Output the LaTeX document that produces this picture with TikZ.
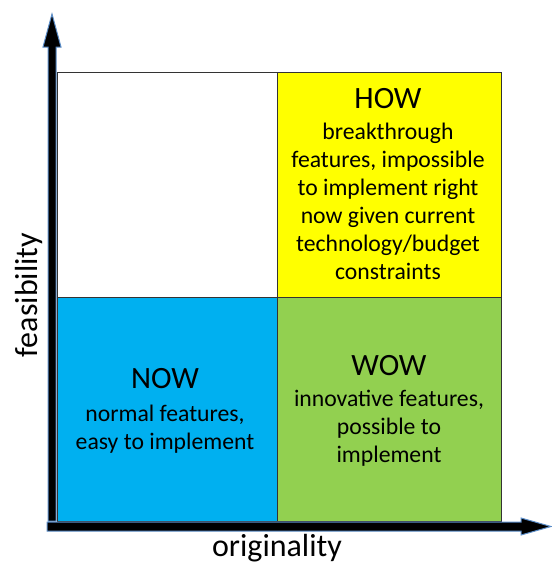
\documentclass[tikz,border=0pt]{standalone}
\usepackage{fontspec}
\setmainfont{Carlito}
\definecolor{nowblue}{HTML}{00B0F0}
\definecolor{howyellow}{HTML}{FFFF00}
\definecolor{wowgreen}{HTML}{92D050}
\definecolor{glow}{HTML}{5B8DC8}
\begin{document}
\begin{tikzpicture}[x=1pt,y=-1pt]

	\tikzset{cell/.style={draw=black!80,line width=0.8pt},
		axis/.style={fill=black,draw=glow,line width=1pt,line join=miter},
		title/.style={anchor=base,font=\fontsize{31}{33}\selectfont},
		body/.style={anchor=north,inner sep=0pt,align=center,font=\fontsize{23.7}{28}\selectfont},
		axislabel/.style={anchor=base,font=\fontsize{32}{34}\selectfont}}

	\useasboundingbox (0,0) rectangle (552,563);

	\draw[cell,fill=white] (57,72) rectangle (277,297);
	\draw[cell,fill=howyellow] (277,72) rectangle (501,297);
	\draw[cell,fill=nowblue] (57,297) rectangle (277,521);
	\draw[cell,fill=wowgreen] (277,297) rectangle (501,521);

	% axes
	\draw[axis] (48,521) -- (48,47) -- (43,47) -- (52,14) -- (61,47) -- (56,47) -- (56,521) -- cycle;
	\draw[axis] (47,522) -- (521,522) -- (521,518) -- (551,526.5) -- (521,535) -- (521,531) -- (47,531) -- cycle;

	\node[title] (how) at (388,108) {HOW};
	\node[body] (howtext) at (388,123) {breakthrough\\features, impossible\\to implement right\\now given current\\technology/budget\\constraints};

	\node[title] (now) at (165,388) {NOW};
	\node[body] (nowtext) at (165,405) {normal features,\\easy to implement};

	\node[title] (wow) at (389,375) {WOW};
	\node[body] (wowtext) at (389,390) {innovative features,\\possible to\\implement};

	\node[axislabel] (orig) at (277,556) {originality};
	\node[axislabel,rotate=90] (feas) at (37,295) {feasibility};

\end{tikzpicture}
\end{document}
